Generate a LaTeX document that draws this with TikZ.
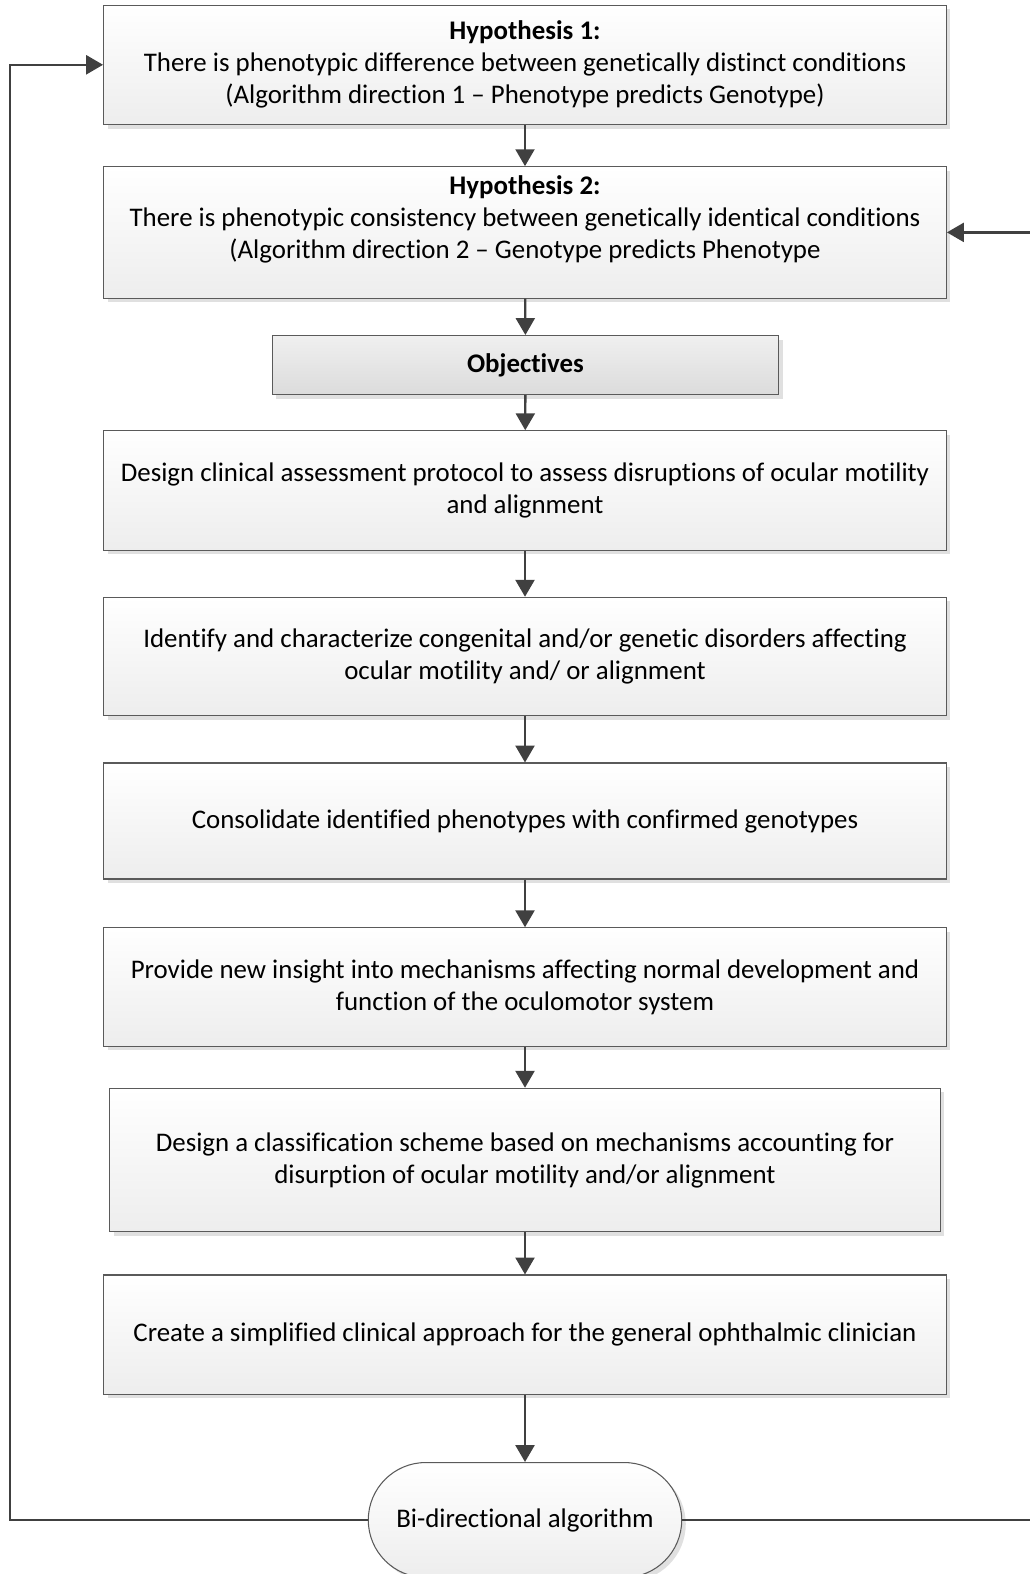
\documentclass[tikz,border=0pt]{standalone}
\usepackage{fontspec}
\setmainfont{Carlito}[Ligatures=NoCommon]
\usetikzlibrary{arrows.meta,shadows}
\definecolor{edgegray}{HTML}{5A5A5A}
\definecolor{linkgray}{HTML}{404040}
\tikzset{
  stagebox/.style={draw=edgegray, line width=0.6pt, top color=white, bottom color=black!7,
    drop shadow={shadow xshift=2.3pt, shadow yshift=-2.3pt, fill=black!12, opacity=1},
    minimum width=16.86cm, inner sep=0pt, align=center,
    font=\fontsize{15.3}{18.2}\selectfont},
  headbox/.style={stagebox, minimum width=10.14cm, minimum height=1.18cm,
    top color=black!6, bottom color=black!14},
  endbox/.style={stagebox, minimum width=6.27cm, minimum height=2.3cm, rounded corners=1.15cm},
  link/.style={draw=linkgray, line width=1.3pt, -{Triangle[length=9.6pt,width=10.8pt]}},
}
\begin{document}
\begin{tikzpicture}[x=0.02cm, y=-0.02cm]
  \useasboundingbox (0,0) rectangle (1030,1574);
  % hypotheses
  \node[stagebox, minimum height=2.39cm] (hypone) at (525,64.8)
    {\textbf{Hypothesis 1:}\\There is phenotypic difference between genetically distinct conditions\\(Algorithm direction 1 – Phenotype predicts Genotype)};
  \node[stagebox, minimum height=2.63cm] (hyptwo) at (525,232.4)
    {\textbf{Hypothesis 2:}\\There is phenotypic consistency between genetically identical conditions\\(Algorithm direction 2 – Genotype predicts Phenotype\\[-0.6pt]\mbox{}};
  \node[headbox] (objectives) at (525.5,365) {\textbf{Objectives}};
  % objectives
  \node[stagebox, minimum height=2.39cm] (protocol) at (525,490.5)
    {Design clinical assessment protocol to assess disruptions of ocular motility\\and alignment};
  \node[stagebox, minimum height=2.37cm] (disorders) at (525,656.5)
    {Identify and characterize congenital and/or genetic disorders affecting\\ocular motility and/ or alignment};
  \node[stagebox, minimum height=2.32cm] (consolidate) at (525,821)
    {Consolidate identified phenotypes with confirmed genotypes};
  \node[stagebox, minimum height=2.37cm] (insight) at (525,987)
    {Provide new insight into mechanisms affecting normal development and\\function of the oculomotor system};
  \node[stagebox, minimum width=16.62cm, minimum height=2.87cm] (scheme) at (525,1160)
    {Design a classification scheme based on mechanisms accounting for\\disurption of ocular motility and/or alignment};
  \node[stagebox, minimum height=2.39cm] (approach) at (525,1334.7)
    {Create a simplified clinical approach for the general ophthalmic clinician};
  \node[endbox] (algorithm) at (525,1520) {Bi-directional algorithm};
  % connectors
  \draw[link] (hypone) -- (hyptwo);
  \draw[link] (hyptwo) -- (objectives);
  \draw[link] (objectives) -- (protocol);
  \draw[link] (protocol) -- (disorders);
  \draw[link] (disorders) -- (consolidate);
  \draw[link] (consolidate) -- (insight);
  \draw[link] (insight) -- (scheme);
  \draw[link] (scheme) -- (approach);
  \draw[link] (approach) -- (algorithm);
  % feedback loops
  \coordinate (leftrail) at (10,0);
  \coordinate (rightrail) at (1034,0);
  \draw[link] (algorithm.west) -- (algorithm.west -| leftrail) |- (hypone.west);
  \draw[link] (algorithm.east) -- (algorithm.east -| rightrail) |- (hyptwo.east);
\end{tikzpicture}
\end{document}
